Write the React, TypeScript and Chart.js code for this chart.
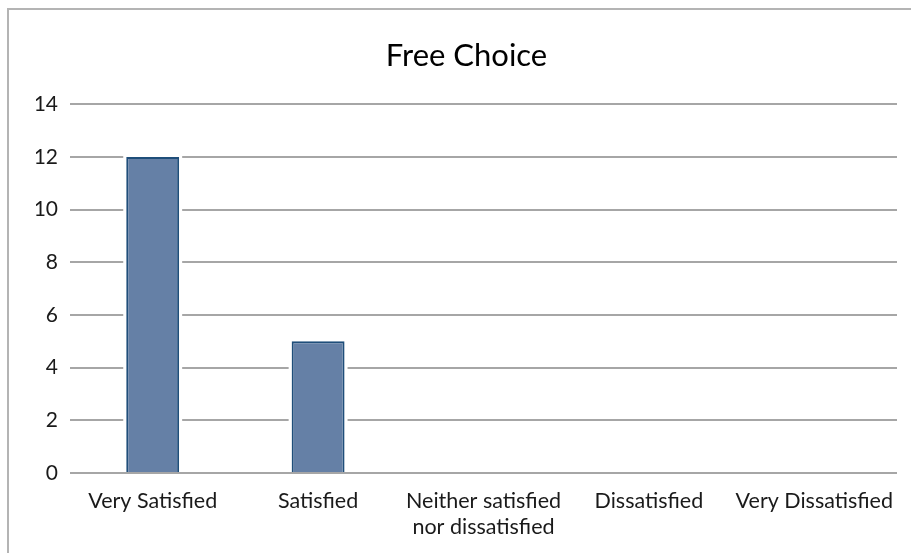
import React, { useEffect, useRef } from "react";
import { Chart, registerables } from "chart.js";

Chart.register(...registerables);

const titleText = "Free Choice";
const categories: string[][] = [
  ["Very Satisfied"],
  ["Satisfied"],
  ["Neither satisfied", "nor dissatisfied"],
  ["Dissatisfied"],
  ["Very Dissatisfied"],
];
const values: number[] = [12, 5, 0, 0, 0];
const yMin = 0;
const yMax = 14;
const yStep = 2;

const FONT = "Lato, 'Open Sans', sans-serif";

const barGapPlugin = {
  id: "barGap",
  beforeDatasetsDraw(chart: any) {
    const ctx = chart.ctx;
    const meta = chart.getDatasetMeta(0);
    ctx.save();
    ctx.fillStyle = "#ffffff";
    meta.data.forEach((bar: any) => {
      const p = bar.getProps(["x", "y", "base", "width"], true);
      if (Math.abs(p.base - p.y) < 0.5) return;
      ctx.fillRect(p.x - p.width / 2 - 3, p.y - 3, p.width + 6, p.base - p.y + 2);
    });
    ctx.restore();
  },
};

export default function App() {
  const ref = useRef<HTMLCanvasElement>(null);
  useEffect(() => {
    if (!ref.current) return;
    const chart = new Chart(ref.current, {
      type: "bar",
      data: {
        labels: categories,
        datasets: [
          {
            data: values,
            backgroundColor: "#6580a6",
            borderColor: "#1f4e7a",
            borderWidth: 2,
            barPercentage: 0.32,
            categoryPercentage: 1,
          },
        ],
      },
      plugins: [barGapPlugin],
      options: {
        animation: false,
        responsive: false,
        maintainAspectRatio: false,
        layout: { padding: { left: 36, right: 14, top: 0, bottom: 0 } },
        plugins: {
          legend: { display: false },
          tooltip: { enabled: false },
          title: {
            display: true,
            text: titleText,
            color: "#000000",
            font: { family: FONT, size: 31, weight: "normal", lineHeight: 1.2 },
            padding: { top: 37, bottom: 30 },
          },
        },
        scales: {
          x: {
            grid: { display: false, drawTicks: false },
            border: { display: false },
            ticks: {
              color: "#1a1a1a",
              font: { family: FONT, size: 21.5, lineHeight: 1.2 },
              padding: 15,
              maxRotation: 0,
              autoSkip: false,
            },
            afterFit: (s: any) => {
              s.height = 80;
            },
          },
          y: {
            min: yMin,
            max: yMax,
            grid: { color: "#a6a6a6", lineWidth: 2, drawTicks: false },
            border: { display: false },
            ticks: {
              stepSize: yStep,
              color: "#1a1a1a",
              font: { family: FONT, size: 21 },
              padding: 12,
            },
            afterFit: (s: any) => {
              s.width = 34;
            },
          },
        },
      },
    });
    return () => chart.destroy();
  }, []);
  return (
    <div style={{ position: "fixed", left: 0, top: 0, width: 911, height: 553, background: "#fff" }}>
      <canvas ref={ref} width={911} height={553} style={{ position: "absolute", left: 0, top: 0 }} />
      <div
        style={{
          position: "absolute",
          left: 7,
          top: 8,
          width: 920,
          height: 543,
          borderTop: "2px solid #b4b4b4",
          borderLeft: "2px solid #b4b4b4",
          pointerEvents: "none",
        }}
      />
    </div>
  );
}
